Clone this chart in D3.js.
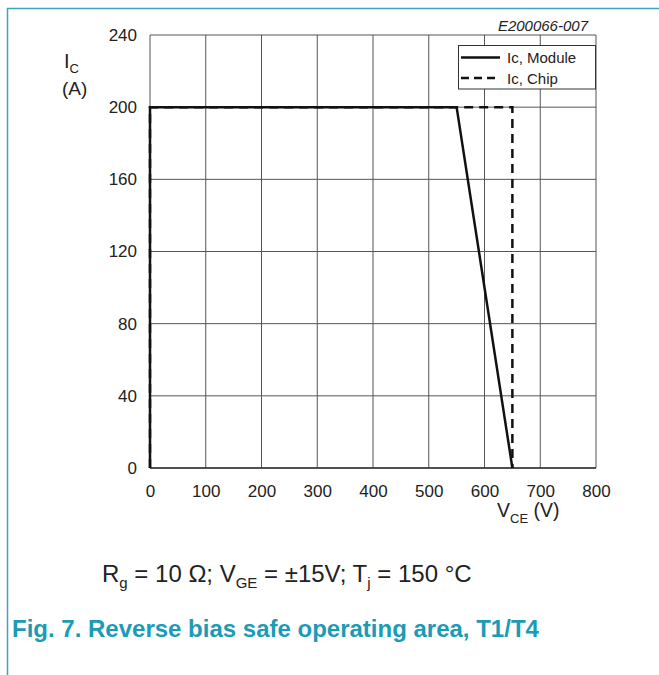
<!DOCTYPE html>
<html>
<head>
<meta charset="utf-8">
<script src="https://cdn.jsdelivr.net/npm/d3@7"></script>
<style>
  body { margin: 0; background: #fff; }
  svg text { font-family: "Liberation Sans", Arial, sans-serif; fill: #222; }
</style>
</head>
<body>
<svg width="659" height="675"></svg>
<script>
// chart data
var xTicks = [0, 100, 200, 300, 400, 500, 600, 700, 800],
    yTicks = [0, 40, 80, 120, 160, 200, 240],
    moduleV = [0, 0, 550, 650],
    moduleI = [0, 200, 200, 0],
    chipV = [0, 0, 650, 650],
    chipI = [0, 200, 200, 0],
    legendNames = ["Ic, Module", "Ic, Chip"];

var svg = d3.select("svg"),
    teal = "#3aa6c0",
    plotLeft = 150, plotRight = 596, plotTop = 35, plotBottom = 468;

var x = d3.scaleLinear().domain([0, 800]).range([plotLeft, plotRight]),
    y = d3.scaleLinear().domain([0, 240]).range([plotBottom, plotTop]);

// page frame lines
svg.append("line").attr("x1", 7).attr("x2", 659).attr("y1", 8.5).attr("y2", 8.5)
  .attr("stroke", teal).attr("stroke-width", 1.5);
svg.append("line").attr("x1", 7.5).attr("x2", 7.5).attr("y1", 8).attr("y2", 675)
  .attr("stroke", teal).attr("stroke-width", 1.5);

// grid
var grid = svg.append("g");
grid.selectAll(".gx").data(xTicks).enter().append("line")
  .attr("x1", function(d) { return x(d); }).attr("x2", function(d) { return x(d); })
  .attr("y1", plotTop).attr("y2", plotBottom)
  .attr("stroke", "#555").attr("stroke-width", 1);
grid.selectAll(".gy").data(yTicks).enter().append("line")
  .attr("y1", function(d) { return y(d); }).attr("y2", function(d) { return y(d); })
  .attr("x1", plotLeft).attr("x2", plotRight)
  .attr("stroke", "#555").attr("stroke-width", 1);
svg.append("line").attr("x1", plotLeft).attr("x2", plotRight).attr("y1", plotBottom).attr("y2", plotBottom)
  .attr("stroke", "#333").attr("stroke-width", 1.5);

// tick labels via axes, no lines
var yAxis = svg.append("g").attr("transform", "translate(" + (plotLeft - 13) + ",0)")
  .call(d3.axisLeft(y).tickValues(yTicks).tickSize(0).tickPadding(0));
var xAxis = svg.append("g").attr("transform", "translate(0," + (plotBottom + 29) + ")")
  .call(d3.axisBottom(x).tickValues(xTicks).tickSize(0).tickPadding(0));
[yAxis, xAxis].forEach(function(a) {
  a.select(".domain").remove();
  a.selectAll("text").style("font-size", "17px").attr("fill", "#222")
    .style("font-family", "'Liberation Sans', Arial, sans-serif");
});
xAxis.selectAll("text").attr("y", 0).attr("dy", 0);

// curves
var line = d3.line().x(function(d) { return x(d[0]); }).y(function(d) { return y(d[1]); });
var chipData = d3.zip(chipV, chipI),
    moduleData = d3.zip(moduleV, moduleI);
svg.append("path").datum(chipData).attr("d", line)
  .attr("fill", "none").attr("stroke", "#111").attr("stroke-width", 2.5)
  .attr("stroke-dasharray", "9,6");
svg.append("path").datum(moduleData).attr("d", line)
  .attr("fill", "none").attr("stroke", "#111").attr("stroke-width", 2.5);

// legend
var lg = svg.append("g");
lg.append("rect").attr("x", 458.5).attr("y", 45.5).attr("width", 137).attr("height", 43.5)
  .attr("fill", "#fff").attr("stroke", "#333").attr("stroke-width", 1);
legendNames.forEach(function(n, i) {
  var ly = 57.5 + i * 20.5;
  lg.append("line").attr("x1", 461).attr("x2", 500).attr("y1", ly).attr("y2", ly)
    .attr("stroke", "#111").attr("stroke-width", 2.5)
    .attr("stroke-dasharray", i === 1 ? "8,5" : null);
  lg.append("text").attr("x", 507).attr("y", ly + 5.5).style("font-size", "15px").text(n);
});

// code label
svg.append("text").attr("x", 588).attr("y", 31).attr("text-anchor", "end")
  .style("font-size", "15px").style("font-style", "italic").text("E200066-007");

// axis titles
var yl = svg.append("text").attr("x", 64).attr("y", 68).style("font-size", "20px");
yl.append("tspan").text("I");
yl.append("tspan").attr("dy", 5).style("font-size", "13px").text("C");
svg.append("text").attr("x", 62).attr("y", 95).style("font-size", "19px").text("(A)");

var xl = svg.append("text").attr("x", 497).attr("y", 517).style("font-size", "19.5px");
xl.append("tspan").text("V");
xl.append("tspan").attr("dy", 6).style("font-size", "13px").text("CE");
xl.append("tspan").attr("dy", -6).text(" (V)");

// conditions
var c = svg.append("text").attr("x", 102).attr("y", 582).style("font-size", "24px");
c.append("tspan").text("R");
c.append("tspan").attr("dy", 6).style("font-size", "15px").text("g");
c.append("tspan").attr("dy", -6).text(" = 10 Ω; V");
c.append("tspan").attr("dy", 6).style("font-size", "15px").text("GE");
c.append("tspan").attr("dy", -6).text(" = ±15V; T");
c.append("tspan").attr("dy", 6).style("font-size", "15px").text("j");
c.append("tspan").attr("dy", -6).text(" = 150 °C");

// figure caption
svg.append("text").attr("x", 12).attr("y", 637).style("font-size", "24px")
  .style("font-weight", "bold").style("fill", "#1b9bb6")
  .text("Fig. 7. Reverse bias safe operating area, T1/T4");
</script>
</body>
</html>
